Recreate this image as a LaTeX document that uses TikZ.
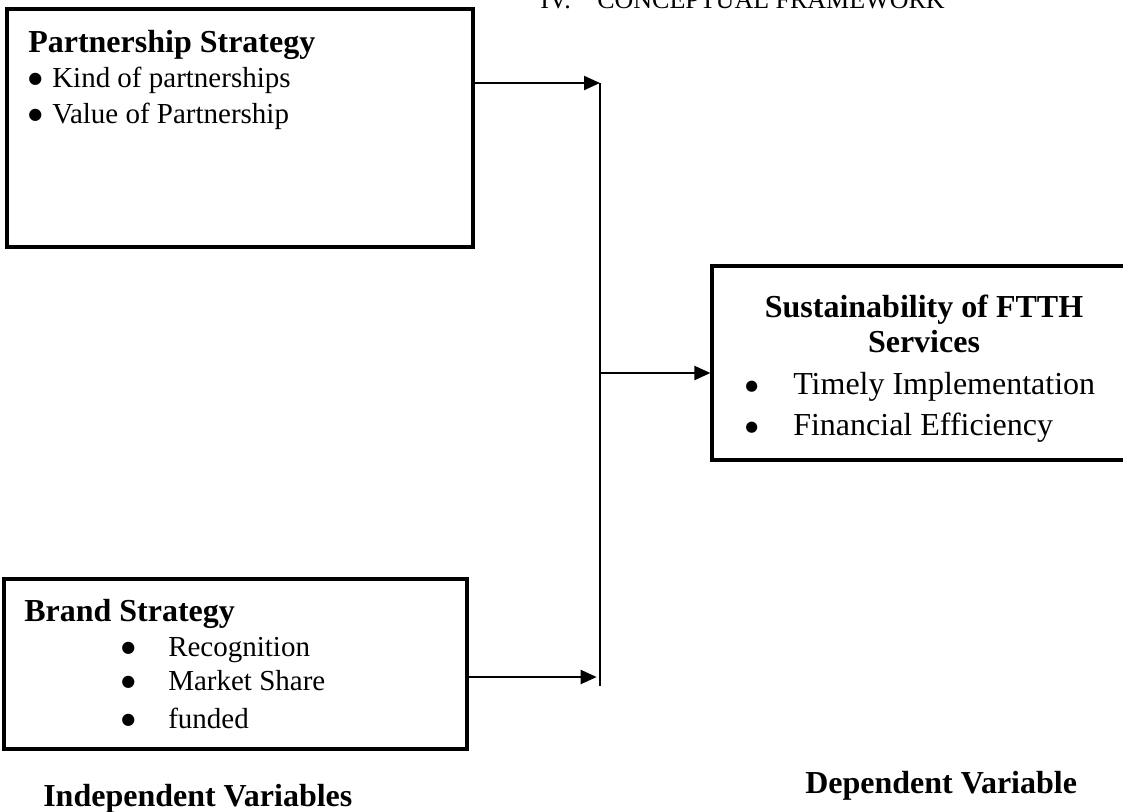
\documentclass[tikz,border=0pt]{standalone}
\usepackage{fontspec}
\setmainfont{Liberation Serif}
\newfontfamily\bulfont{DejaVu Sans}
\usetikzlibrary{arrows.meta,fit}
\newcommand{\bulA}{\raisebox{2.5pt}{\bulfont\fontsize{12}{12}\selectfont ●}}
\newcommand{\bulB}{\raisebox{3pt}{\bulfont\fontsize{11}{11}\selectfont ●}}
\tikzset{
  box/.style={draw, line width=2.4pt, inner sep=0pt},
  conn/.style={line width=1.6pt},
  arr/.style={conn, -{Triangle[length=12pt,width=10.5pt]}},
  ttl/.style={anchor=base west, inner sep=0pt, font=\fontsize{24}{28}\selectfont\bfseries},
  ttlc/.style={anchor=base, inner sep=0pt, font=\fontsize{24}{28}\selectfont\bfseries},
  itm/.style={anchor=base west, inner sep=0pt, font=\fontsize{21.75}{26}\selectfont},
  itmb/.style={anchor=base west, inner sep=0pt, font=\fontsize{24}{28}\selectfont},
  hdr/.style={anchor=base west, inner sep=0pt, font=\fontsize{19.5}{23}\selectfont},
}
\begin{document}
\begin{tikzpicture}[x=0.75pt,y=-0.75pt]
\useasboundingbox (0,0) rectangle (1123,811);
% header
\node[hdr] (hiv) at (540,8) {IV.};
\node[hdr] (htitle) at (597,8) {CONCEPTUAL FRAMEWORK};
% boxes
\node[box, fit={(7,9) (473,247)}] (ps) {};
\node[box, fit={(4,579) (467,749)}] (bs) {};
\node[box, fit={(712,266) (1135,460)}] (sf) {};
% partnership text
\node[ttl] (pst) at (28,52) {Partnership Strategy};
\node[itm] (pi1) at (28,87) {\makebox[18pt][l]{\bulA}Kind of partnerships};
\node[itm] (pi2) at (28,123) {\makebox[18pt][l]{\bulA}Value of Partnership};
% brand text
\node[ttl] (bst) at (24,621) {Brand Strategy};
\node[itm] (bi1) at (121,656) {\makebox[35.25pt][l]{\bulA}Recognition};
\node[itm] (bi2) at (121,690) {\makebox[35.25pt][l]{\bulA}Market Share};
\node[itm] (bi3) at (121,728) {\makebox[35.25pt][l]{\bulA}funded};
% sustainability text
\node[ttlc] (sft1) at (924,317) {Sustainability of FTTH};
\node[ttlc] (sft2) at (924,352) {Services};
\node[itmb] (si1) at (745,394) {\makebox[36pt][l]{\bulB}Timely Implementation};
\node[itmb] (si2) at (745,435) {\makebox[36pt][l]{\bulB}Financial Efficiency};
% labels
\node[ttl] (indep) at (43,806) {Independent Variables};
\node[ttl] (dep) at (805,793) {Dependent Variable};
% connectors
\coordinate (jt) at (600,83);
\coordinate (jm) at (600,373);
\coordinate (jb) at (600,686);
\coordinate (jbb) at (600,677);
\draw[arr] (ps.east |- jt) -- (jt);
\draw[arr] (bs.east |- jbb) -- ([xshift=-2.5pt]jbb);
\draw[conn] (jt) -- (jb);
\draw[arr] (jm) -- (sf.west |- jm);
\end{tikzpicture}
\end{document}
